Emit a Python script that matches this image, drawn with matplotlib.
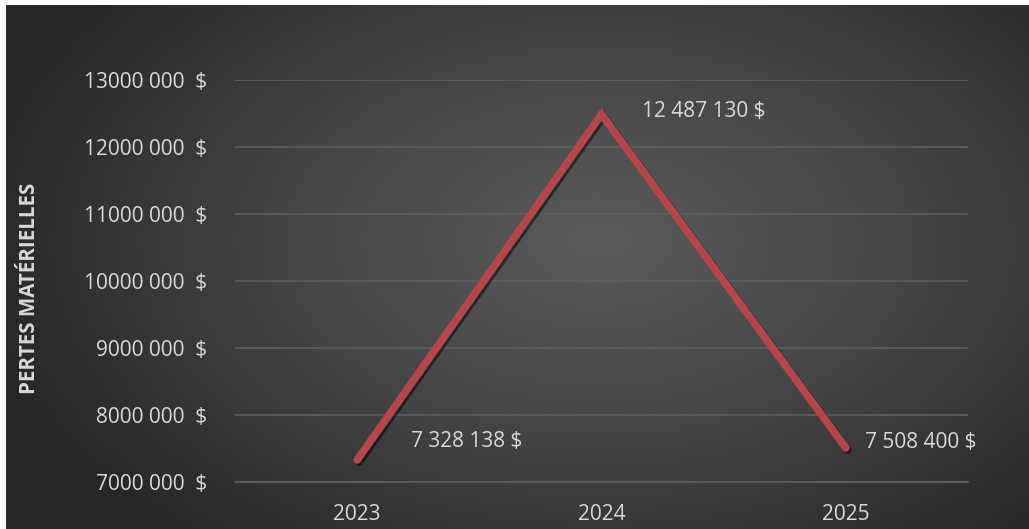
import numpy as np
import matplotlib
matplotlib.use("Agg")
import matplotlib.pyplot as plt
import matplotlib.patheffects as pe

years = ["2023", "2024", "2025"]
losses = [7328138, 12487130, 7508400]
value_labels = ["7 328 138 $", "12 487 130 $", "7 508 400 $"]
yticks = [7000000, 8000000, 9000000, 10000000, 11000000, 12000000, 13000000]
ytick_labels = ["7000 000  $", "8000 000  $", "9000 000  $", "10000 000  $",
                "11000 000  $", "12000 000  $", "13000 000  $"]
ylabel = "PERTES MATÉRIELLES"

W, H = 1029, 529
fig = plt.figure(figsize=(W / 100, H / 100), dpi=100, facecolor="white")
plt.rcParams['font.family'] = ['Open Sans', 'DejaVu Sans']

# background radial gradient
bg = fig.add_axes([6 / W, 0, 1 - 6 / W, 1 - 5 / H], zorder=-2)
bg.axis("off")
nx, ny = 400, 210
xx, yy = np.meshgrid(np.linspace(0, 1, nx), np.linspace(0, 1, ny))
cx, cy = 0.58, 0.55
r = np.sqrt(((xx - cx) / 0.62) ** 2 + ((yy - cy) / 0.75) ** 2)
r = np.clip(r, 0, 1)
val = 0.345 - (0.345 - 0.15) * r ** 1.3
img = np.dstack([val, val, val])
bg.imshow(img, aspect="auto", extent=[0, 1, 0, 1], origin="lower")
bg.set_xlim(0, 1)
bg.set_ylim(0, 1)

# main plot
left, right = 235 / W, 968 / W
bottom, top = 1 - 482 / H, 1 - 80 / H
ax = fig.add_axes([left, bottom, right - left, top - bottom])
ax.set_facecolor("none")
x = np.arange(len(years))
ax.plot(x, losses, color="#B3474A", lw=5.5, solid_capstyle="round", solid_joinstyle="miter",
        path_effects=[pe.SimpleLineShadow(offset=(1.5, -1.5), shadow_color="black", alpha=0.5),
                      pe.Normal()], zorder=3)
ax.set_xlim(-0.5, 2.5)
ax.set_ylim(7000000, 13000000)
ax.set_yticks(yticks)
ax.set_yticklabels(ytick_labels)
ax.set_xticks(x)
ax.set_xticklabels(years)
ax.grid(axis="y", color="#5f5f5f", lw=1.2)
ax.grid(axis="x", visible=False)
for s in ["top", "right", "left"]:
    ax.spines[s].set_visible(False)
ax.spines["bottom"].set_color("#5f5f5f")
ax.spines["bottom"].set_linewidth(1.2)
ax.tick_params(axis="both", length=0, colors="#d9d9d9", labelsize=15)
ax.tick_params(axis="y", pad=20)
ax.tick_params(axis="x", pad=16)
ax.set_axisbelow(True)

offsets = [(39, 13), (29, 2), (14, 4)]
for xi, v, lab, off in zip(x, losses, value_labels, offsets):
    ax.annotate(lab, (xi, v), xytext=off, textcoords="offset points",
                color="#d9d9d9", fontsize=15, ha="left", va="center")

fig.text(30 / W, 1 - 288 / H, ylabel, rotation=90, color="#d9d9d9",
         fontsize=14.8, fontweight="bold", ha="center", va="center")

fig.savefig("out.png", dpi=100, facecolor="white")
